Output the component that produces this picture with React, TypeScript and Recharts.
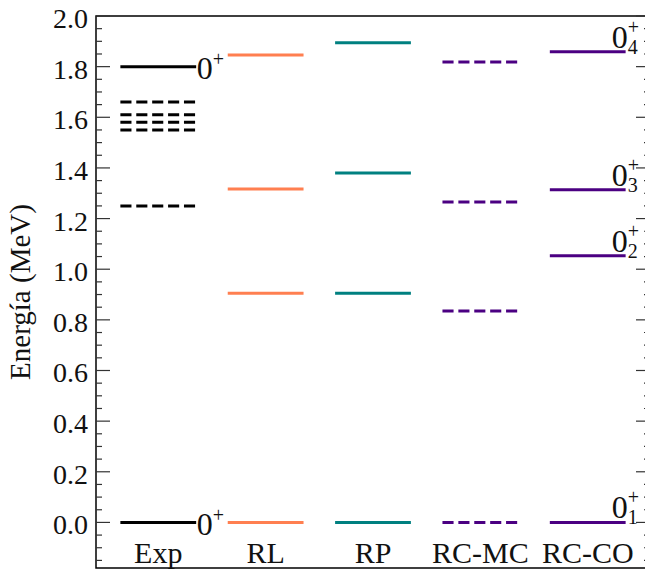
import React from 'react';
import { ComposedChart, XAxis, YAxis, ReferenceLine, ReferenceDot, ReferenceArea } from 'recharts';

// ---- data ----
const categories = ['Exp', 'RL', 'RP', 'RC-MC', 'RC-CO'];
const expSolid = [0.0, 1.8];
const expDashed = [1.25, 1.55, 1.58, 1.61, 1.66];
const rlLevels = [0.0, 0.905, 1.317, 1.846];
const rpLevels = [0.0, 0.905, 1.38, 1.894];
const rcmcLevels = [0.0, 0.835, 1.265, 1.818];
const rccoLevels = [0.0, 1.053, 1.314, 1.859];
const rccoSubscripts = ['1', '2', '3', '4'];
const majorTicks = [0.0, 0.2, 0.4, 0.6, 0.8, 1.0, 1.2, 1.4, 1.6, 1.8, 2.0];
const minorTicks = [-0.15, -0.1, -0.05, 0.05, 0.1, 0.15, 0.25, 0.3, 0.35, 0.45, 0.5, 0.55, 0.65, 0.7, 0.75, 0.85, 0.9, 0.95, 1.05, 1.1, 1.15, 1.25, 1.3, 1.35, 1.45, 1.5, 1.55, 1.65, 1.7, 1.75, 1.85, 1.9, 1.95];
const yLabel = 'Energía (MeV)';

// ---- style ----
const FONT = "'Liberation Serif', 'DejaVu Serif', serif";
const TXT = { fontFamily: FONT };
const COLORS = ['#000000', '#FF7F50', '#008080', '#4B0082', '#4B0082'];
const HALF = 0.353;
const DASH = '11.1 4.8';
const LW = 3;
const X_DOMAIN: [number, number] = [-0.58, 4.58];
const Y_DOMAIN: [number, number] = [-0.18, 2.0];

const allTicks = [...minorTicks, ...majorTicks].sort((a, b) => a - b);
const isMajor = (v: number) => majorTicks.some((m) => Math.abs(m - v) < 1e-6);

const LeftTick = (props: any) => {
  const { x, y, payload } = props;
  const v = payload.value as number;
  const major = isMajor(v);
  return (
    <g>
      <line x1={x} x2={x + (major ? 14 : 6)} y1={y} y2={y} stroke="#333" strokeWidth={1.2} />
      {major && (
        <text x={x - 8} y={y + 12} textAnchor="end" fontSize={28} style={TXT} fill="#111">
          {v.toFixed(1)}
        </text>
      )}
    </g>
  );
};

const RightTick = (props: any) => {
  const { x, y, payload } = props;
  const v = payload.value as number;
  const major = isMajor(v);
  return <line x1={x} x2={x - (major ? 14 : 6)} y1={y} y2={y} stroke="#333" strokeWidth={1.2} />;
};

const YLabel = () => (
  <text x={30} y={292} transform="rotate(-90 30 292)" textAnchor="middle" fontSize={29} style={TXT} fill="#111">
    {yLabel}
  </text>
);

const ExpLabel = (p: any) => (
  <g>
    <text x={p.cx + 0.5} y={p.cy + 12.5} fontSize={32} style={TXT} fill="#111">0</text>
    <text x={p.cx + 16.5} y={p.cy - 0.5} fontSize={20} style={TXT} fill="#111">+</text>
  </g>
);

const makeCoLabel = (sub: string) => (p: any) => {
  const x0 = p.cx - 14;
  const base = p.cy - 4;
  return (
    <g>
      <text x={x0} y={base} fontSize={32} style={TXT} fill="#111">0</text>
      <text x={x0 + 16} y={base - 14} fontSize={20} style={TXT} fill="#111">+</text>
      <text x={x0 + 16} y={base + 6} fontSize={20} style={TXT} fill="#111">{sub}</text>
    </g>
  );
};

const CatLabel = (text: string) => (p: any) => (
  <text x={p.cx} y={p.cy + 15} textAnchor="middle" fontSize={30} style={TXT} fill="#111">
    {text}
  </text>
);

const level = (key: string, i: number, v: number, dashed: boolean) => (
  <ReferenceLine
    key={key}
    yAxisId="left"
    segment={[{ x: i - HALF, y: v }, { x: i + HALF, y: v }]}
    stroke={COLORS[i]}
    strokeWidth={LW}
    strokeDasharray={dashed ? DASH : undefined}
    ifOverflow="visible"
  />
);

const chartData = categories.map((c, i) => ({ x: i, y: 0, name: c }));

export default function App() {
  const models = [rlLevels, rpLevels, rcmcLevels, rccoLevels];
  return (
    <div style={{ position: 'absolute', left: 0, top: 0, width: 645, height: 572, overflow: 'hidden', background: '#fff', fontFamily: FONT }}>
      <ComposedChart width={660} height={572} data={chartData} margin={{ top: 16, right: 0, bottom: 4, left: 0 }}>
        <XAxis type="number" dataKey="x" domain={X_DOMAIN} allowDataOverflow hide />
        <YAxis
          yAxisId="left"
          type="number"
          domain={Y_DOMAIN}
          allowDataOverflow
          ticks={allTicks}
          interval={0}
          width={96}
          axisLine={false}
          tickLine={false}
          tickSize={0}
          tickMargin={0}
          tick={<LeftTick />}
          label={<YLabel />}
        />
        <YAxis
          yAxisId="right"
          orientation="right"
          type="number"
          domain={Y_DOMAIN}
          allowDataOverflow
          ticks={allTicks}
          interval={0}
          width={10}
          axisLine={false}
          tickLine={false}
          tickSize={0}
          tickMargin={0}
          tick={<RightTick />}
        />
        <ReferenceArea
          yAxisId="left"
          x1={X_DOMAIN[0]}
          x2={X_DOMAIN[1]}
          y1={Y_DOMAIN[0]}
          y2={Y_DOMAIN[1]}
          fill="#fff"
          fillOpacity={0}
          stroke="#000"
          strokeWidth={1.5}
          strokeOpacity={1}
          ifOverflow="visible"
        />
        {expSolid.map((v, k) => level(`es${k}`, 0, v, false))}
        {expDashed.map((v, k) => level(`ed${k}`, 0, v, true))}
        {models.map((arr, m) => arr.map((v, k) => level(`m${m}-${k}`, m + 1, v, m + 1 === 3)))}
        {expSolid.map((v, k) => (
          <ReferenceDot key={`el${k}`} yAxisId="left" x={HALF} y={v} r={0} ifOverflow="visible" shape={ExpLabel} />
        ))}
        {rccoLevels.map((v, k) => (
          <ReferenceDot key={`cl${k}`} yAxisId="left" x={4 + HALF} y={v} r={0} ifOverflow="visible" shape={makeCoLabel(rccoSubscripts[k])} />
        ))}
        {categories.map((c, i) => (
          <ReferenceDot key={`cat${i}`} yAxisId="left" x={i} y={-0.1} r={0} ifOverflow="visible" shape={CatLabel(c)} />
        ))}
      </ComposedChart>
    </div>
  );
}
